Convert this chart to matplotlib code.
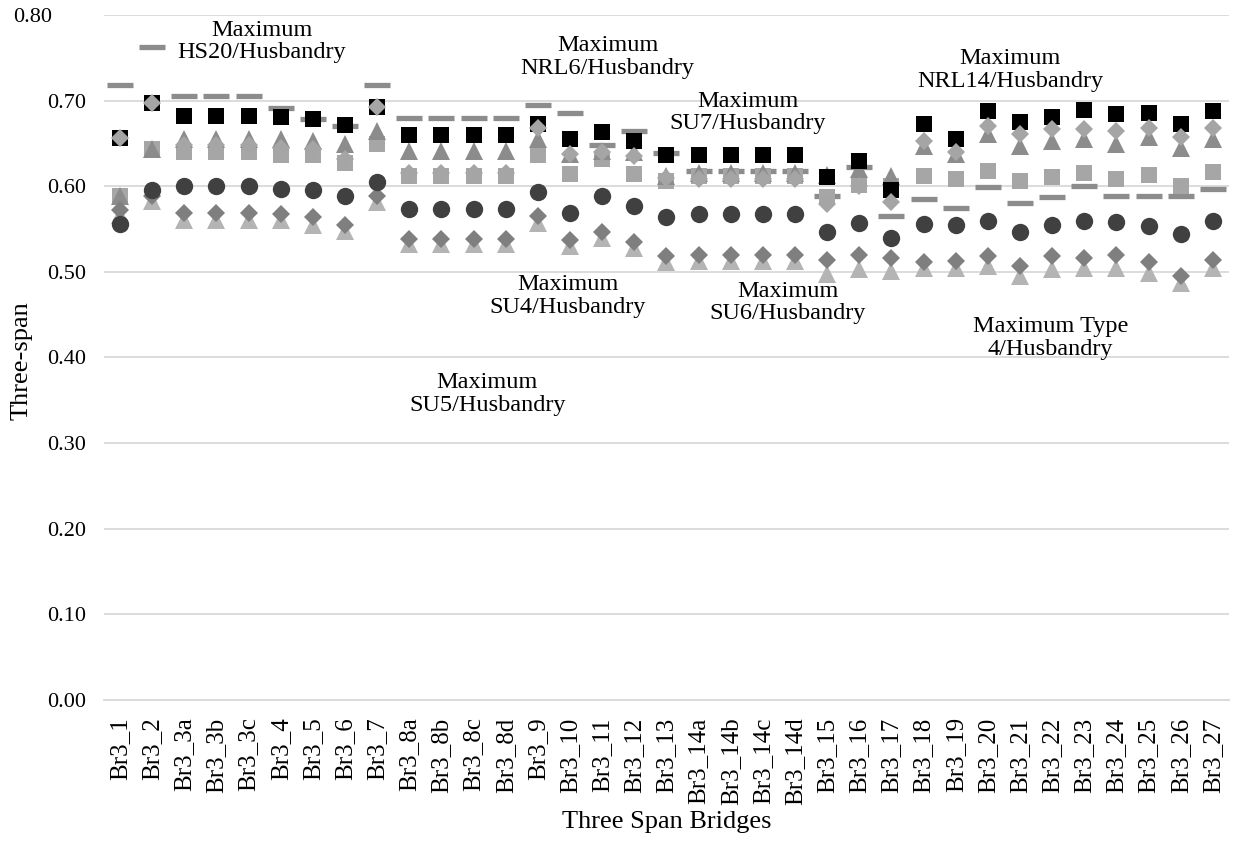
import numpy as np
import matplotlib
matplotlib.use("Agg")
import matplotlib.pyplot as plt

plt.rcParams['font.family'] = ['Liberation Serif', 'DejaVu Serif']

bridges = ['Br3_1', 'Br3_2', 'Br3_3a', 'Br3_3b', 'Br3_3c', 'Br3_4', 'Br3_5', 'Br3_6', 'Br3_7',
           'Br3_8a', 'Br3_8b', 'Br3_8c', 'Br3_8d', 'Br3_9', 'Br3_10', 'Br3_11', 'Br3_12', 'Br3_13',
           'Br3_14a', 'Br3_14b', 'Br3_14c', 'Br3_14d', 'Br3_15', 'Br3_16', 'Br3_17', 'Br3_18',
           'Br3_19', 'Br3_20', 'Br3_21', 'Br3_22', 'Br3_23', 'Br3_24', 'Br3_25', 'Br3_26', 'Br3_27']

# one list per series (marker style in the name, since the chart has no legend)
hs20_dash = [0.718, 0.763, 0.705, 0.705, 0.705, 0.691, 0.679, 0.670, 0.718,
             0.680, 0.680, 0.680, 0.680, 0.695, 0.686, 0.648, 0.664, 0.639,
             0.618, 0.618, 0.618, 0.618, 0.589, 0.622, 0.565, 0.585,
             0.575, 0.599, 0.580, 0.587, 0.600, 0.589, 0.589, 0.588, 0.597]
light_square = [0.589, 0.643, 0.640, 0.640, 0.640, 0.637, 0.636, 0.627, 0.649,
                0.612, 0.612, 0.612, 0.612, 0.636, 0.614, 0.632, 0.614, 0.606,
                0.612, 0.612, 0.612, 0.612, 0.587, 0.602, 0.600, 0.612,
                0.609, 0.618, 0.606, 0.611, 0.616, 0.608, 0.613, 0.600, 0.617]
mid_triangle = [0.589, 0.643, 0.655, 0.655, 0.655, 0.655, 0.653, 0.649, 0.665,
                0.641, 0.641, 0.641, 0.641, 0.655, 0.638, 0.641, 0.640, 0.612,
                0.615, 0.615, 0.615, 0.615, 0.613, 0.620, 0.612, 0.647,
                0.638, 0.661, 0.647, 0.653, 0.655, 0.649, 0.657, 0.645, 0.655]
black_square = [0.656, 0.697, 0.682, 0.682, 0.682, 0.681, 0.679, 0.671, 0.693,
                0.660, 0.660, 0.660, 0.660, 0.673, 0.655, 0.663, 0.653, 0.636,
                0.636, 0.636, 0.636, 0.636, 0.611, 0.629, 0.596, 0.673,
                0.655, 0.688, 0.675, 0.681, 0.689, 0.684, 0.686, 0.673, 0.688]
light_diamond = [0.656, 0.697, 0.648, 0.648, 0.648, 0.645, 0.643, 0.632, 0.693,
                 0.615, 0.615, 0.615, 0.615, 0.668, 0.638, 0.640, 0.635, 0.610,
                 0.608, 0.608, 0.608, 0.608, 0.579, 0.600, 0.581, 0.653,
                 0.640, 0.670, 0.661, 0.667, 0.667, 0.665, 0.668, 0.658, 0.668]
light_triangle = [0.566, 0.583, 0.561, 0.561, 0.561, 0.560, 0.555, 0.548, 0.581,
                  0.532, 0.532, 0.532, 0.532, 0.557, 0.530, 0.539, 0.528, 0.512,
                  0.513, 0.513, 0.513, 0.513, 0.498, 0.503, 0.501, 0.505,
                  0.505, 0.507, 0.495, 0.503, 0.505, 0.504, 0.499, 0.487, 0.505]
gray_diamond = [0.572, 0.588, 0.569, 0.569, 0.569, 0.567, 0.564, 0.555, 0.589,
                0.538, 0.538, 0.538, 0.538, 0.565, 0.537, 0.546, 0.535, 0.519,
                0.520, 0.520, 0.520, 0.520, 0.514, 0.520, 0.516, 0.511,
                0.513, 0.518, 0.507, 0.519, 0.516, 0.520, 0.511, 0.495, 0.514]
dark_circle = [0.556, 0.596, 0.600, 0.600, 0.600, 0.597, 0.595, 0.588, 0.605,
               0.573, 0.573, 0.573, 0.573, 0.593, 0.569, 0.589, 0.577, 0.564,
               0.567, 0.567, 0.567, 0.567, 0.547, 0.557, 0.539, 0.556,
               0.555, 0.559, 0.547, 0.555, 0.559, 0.558, 0.554, 0.544, 0.559]

y_ticks = [0.0, 0.1, 0.2, 0.3, 0.4, 0.5, 0.6, 0.7, 0.8]
y_tick_labels = ['0.00', '0.10', '0.20', '0.30', '0.40', '0.50', '0.60', '0.70', '0.80']

# series name labels: (text, category position, value)
label_texts = ['Maximum\nHS20/Husbandry', 'Maximum\nNRL6/Husbandry', 'Maximum\nSU7/Husbandry',
               'Maximum\nNRL14/Husbandry', 'Maximum\nSU4/Husbandry', 'Maximum\nSU6/Husbandry',
               'Maximum\nSU5/Husbandry', 'Maximum Type\n4/Husbandry']
label_x = [4.4, 15.17, 19.53, 27.7, 13.93, 20.78, 11.43, 28.94]
label_y = [0.769, 0.751, 0.686, 0.736, 0.472, 0.464, 0.357, 0.423]

fig = plt.figure(figsize=(12.38, 8.41), dpi=100)
ax = fig.add_axes([0.084, 0.1677, 0.9087, 0.8145])
x = np.arange(len(bridges))

ax.plot(x, hs20_dash, ls='none', marker='_', ms=19, mew=3.8, color='#8c8c8c', zorder=3)
ax.plot(x, light_square, ls='none', marker='s', ms=12, mew=0, color='#a6a6a6', zorder=4)
ax.plot(x, mid_triangle, ls='none', marker='^', ms=12.5, mew=0, color='#8c8c8c', zorder=5)
ax.plot(x, black_square, ls='none', marker='s', ms=12, mew=0, color='#000000', zorder=6)
ax.plot(x, light_diamond, ls='none', marker='D', ms=8.8, mew=0, color='#a5a5a5', zorder=7)
ax.plot(x, light_triangle, ls='none', marker='^', ms=12.5, mew=0, color='#b4b4b4', zorder=8)
ax.plot(x, gray_diamond, ls='none', marker='D', ms=8.8, mew=0, color='#7f7f7f', zorder=9)
ax.plot(x, dark_circle, ls='none', marker='o', ms=12.5, mew=0, color='#404040', zorder=10)

for t, lx, ly in zip(label_texts, label_x, label_y):
    ax.text(lx, ly, t, ha='center', va='center', fontsize=17.5, linespacing=1.1, zorder=11)

ax.set_xlim(-0.5, len(bridges) - 0.5)
ax.set_ylim(0, 0.8)
ax.set_yticks(y_ticks)
# the top label sits further left in the reference, drawn separately
ax.set_yticklabels(y_tick_labels[:-1] + [''], fontsize=16)
ax.text(-0.081, y_ticks[-1], y_tick_labels[-1], fontsize=16, ha='left', va='center_baseline',
        transform=ax.get_yaxis_transform())
ax.set_xticks(x)
ax.set_xticklabels(bridges, rotation=90, fontsize=18)
ax.tick_params(axis='both', length=0)
ax.tick_params(axis='y', pad=13)
ax.tick_params(axis='x', pad=12.5)
ax.grid(axis='y', color='#d9d9d9', lw=1.3)
ax.set_axisbelow(True)
for s in ['top', 'right', 'left']:
    ax.spines[s].set_visible(False)
ax.spines['bottom'].set_color('#d9d9d9')
ax.spines['bottom'].set_linewidth(1.3)

ax.set_ylabel('Three-span', fontsize=19, va='center')
ax.yaxis.set_label_coords(-0.073, 0.496)
ax.set_xlabel('Three Span Bridges', fontsize=19, va='center')
ax.xaxis.set_label_coords(0.5, -0.178)

fig.savefig('out.png', dpi=100)
